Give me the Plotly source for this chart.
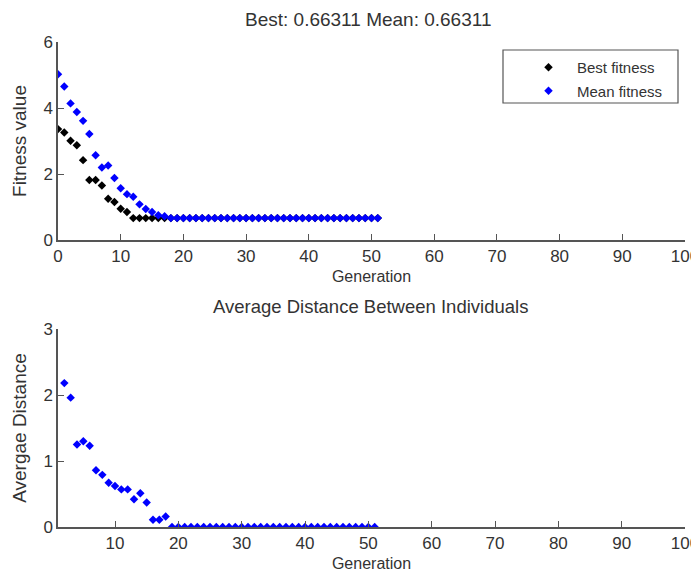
import plotly.graph_objects as go

# ---- data ----
gen_fit = list(range(0, 52))
best_fitness = [3.36, 3.26, 3.01, 2.87, 2.42, 1.82, 1.82, 1.65, 1.25, 1.15, 0.95, 0.85] + [0.66311] * 40
mean_fitness = [5.02, 4.65, 4.14, 3.88, 3.61, 3.21, 2.57, 2.20, 2.26, 1.88, 1.57, 1.39,
                1.31, 1.08, 0.94, 0.85, 0.75, 0.72] + [0.66311] * 34

gen_dist = list(range(2, 52))
avg_distance = [2.18, 1.96, 1.25, 1.30, 1.23, 0.86, 0.79, 0.67, 0.62, 0.57, 0.57, 0.42,
                0.51, 0.37, 0.11, 0.11, 0.16] + [0.0] * 33

top_title = "Best: 0.66311 Mean: 0.66311"
bottom_title = "Average Distance Between Individuals"

FONT = "Liberation Sans, Arial, sans-serif"
TXT = "#333333"
AX = "#555555"

OFF = 8  # page body margin
W, H = 699 - OFF, 580 - OFF
# plot area (pixels in the picture, then shifted to figure coords)
L, R, T, B = 58 - OFF, 685 - OFF, 42 - OFF, 527 - OFF
def fx(x):  # picture pixel x -> paper fraction
    return (x - OFF - L) / (R - L)
def fy(y):  # picture pixel y -> paper fraction
    return (B - (y - OFF)) / (B - T)

fig = go.Figure()
fig.add_trace(go.Scatter(x=gen_fit, y=best_fitness, mode="markers", name="Best fitness",
                         legendgroup="a",
                         marker=dict(symbol="diamond", size=6.5, color="black"),
                         xaxis="x", yaxis="y"))
fig.add_trace(go.Scatter(x=gen_fit, y=mean_fitness, mode="markers", name="Mean fitness",
                         legendgroup="b",
                         marker=dict(symbol="diamond", size=6.5, color="#0000ff"),
                         xaxis="x", yaxis="y"))
fig.add_trace(go.Scatter(x=gen_dist, y=avg_distance, mode="markers", name="Average distance",
                         marker=dict(symbol="diamond", size=6.5, color="#0000ff"),
                         showlegend=False, xaxis="x2", yaxis="y2"))

axis_common = dict(showline=True, linecolor=AX, linewidth=1.5, ticks="inside", ticklen=6,
                   tickcolor=AX, tickwidth=1.2, showgrid=False, zeroline=False, mirror=False,
                   automargin=False, ticklabeloverflow="allow",
                   tickfont=dict(family=FONT, size=17, color=TXT))
xt = dict(family=FONT, size=16, color=TXT)
yt = dict(family=FONT, size=19, color=TXT)

fig.update_layout(
    width=W, height=H,
    margin=dict(l=L, r=W - R, t=T, b=H - B, autoexpand=False),
    paper_bgcolor="white", plot_bgcolor="white",
    showlegend=True,
    xaxis=dict(domain=[0, 1], range=[0, 100], dtick=10, anchor="y",
               title=dict(text="Generation", font=xt, standoff=6), **axis_common),
    yaxis=dict(domain=[fy(240), 1], range=[0, 6], dtick=2, anchor="x",
               title=dict(text="Fitness value", font=yt, standoff=12), **axis_common),
    xaxis2=dict(domain=[0, 1], range=[1, 100], tickvals=list(range(10, 101, 10)), anchor="y2",
                title=dict(text="Generation", font=xt, standoff=6), **axis_common),
    yaxis2=dict(domain=[0, fy(329)], range=[0, 3], dtick=1, anchor="x2",
                title=dict(text="Avergae Distance", font=yt, standoff=12), **axis_common),
    legend=dict(x=fx(520), xanchor="left", y=fy(51), yanchor="top",
                borderwidth=0, bgcolor="rgba(0,0,0,0)",
                font=dict(family=FONT, size=15, color=TXT), itemwidth=47,
                traceorder="grouped", tracegroupgap=1),
    shapes=[dict(type="rect", xref="paper", yref="paper",
                 x0=fx(503), x1=fx(678), y0=fy(103), y1=fy(50),
                 line=dict(color="#555555", width=1.2), fillcolor="rgba(0,0,0,0)", layer="above")],
    annotations=[
        dict(text=top_title, x=fx(368), y=fy(20), xref="paper", yref="paper",
             xanchor="center", yanchor="middle",
             showarrow=False, font=dict(family=FONT, size=19, color=TXT)),
        dict(text=bottom_title, x=fx(370), y=fy(306), xref="paper", yref="paper",
             xanchor="center", yanchor="middle",
             showarrow=False, font=dict(family=FONT, size=18.5, color=TXT)),
    ],
)

fig.write_html("out.html")
